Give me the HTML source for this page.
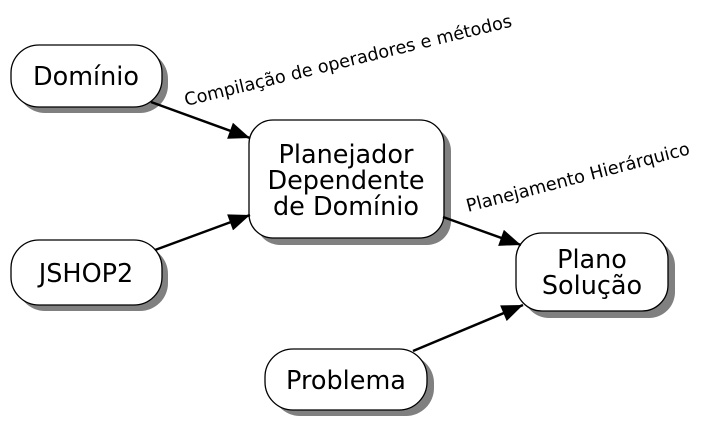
<!DOCTYPE html>
<html><head><meta charset="utf-8"><style>html,body{margin:0;padding:0;background:#fff}svg{display:block}</style></head><body>
<svg width="702" height="430" viewBox="0 0 702 430" xmlns="http://www.w3.org/2000/svg" font-family="DejaVu Sans, sans-serif">
<defs>
<marker id="b" viewBox="0 0 20 16" refX="20" refY="8" markerWidth="22" markerHeight="17" orient="auto" markerUnits="userSpaceOnUse"><path d="M0,0 L20,8 L0,16 z" fill="#000"/></marker></defs>
<g fill="#808080">
<rect x="17" y="51" width="151" height="62" rx="28"/>
<rect x="17" y="246" width="151" height="65" rx="28"/>
<rect x="256" y="127" width="195" height="118" rx="24"/>
<rect x="523" y="240" width="152" height="78" rx="26"/>
<rect x="272" y="355" width="162" height="61" rx="28"/>
</g>
<g fill="#fff" stroke="#000" stroke-width="1.3">
<rect x="11" y="45" width="151" height="62" rx="28"/>
<rect x="11" y="240" width="151" height="65" rx="28"/>
<rect x="249" y="120" width="195" height="118" rx="24"/>
<rect x="516" y="233" width="152" height="78" rx="26"/>
<rect x="265" y="349" width="162" height="61" rx="28"/>
</g>
<g stroke="#000" stroke-width="2.5" fill="none">
<line x1="151" y1="102" x2="250" y2="138" marker-end="url(#b)"/>
<line x1="155" y1="250" x2="250" y2="215" marker-end="url(#b)"/>
<line x1="443" y1="217" x2="521" y2="245" marker-end="url(#b)"/>
<line x1="413" y1="351" x2="523" y2="305" marker-end="url(#b)"/>
</g>
<g font-size="25.5" text-anchor="middle" fill="#000">
<text x="86" y="85">Domínio</text>
<text x="86" y="282">JSHOP2</text>
<text x="346" y="163">Planejador</text>
<text x="346" y="189">Dependente</text>
<text x="346" y="215">de Domínio</text>
<text x="592" y="268">Plano</text>
<text x="592" y="294">Solução</text>
<text x="346" y="389">Problema</text>
</g>
<text x="186" y="106" font-size="17.7" transform="rotate(-13.7 186 106)">Compilação de operadores e métodos</text>
<text x="468" y="212" font-size="17.8" transform="rotate(-14.6 468 212)">Planejamento Hierárquico</text>
</svg>
</body></html>
